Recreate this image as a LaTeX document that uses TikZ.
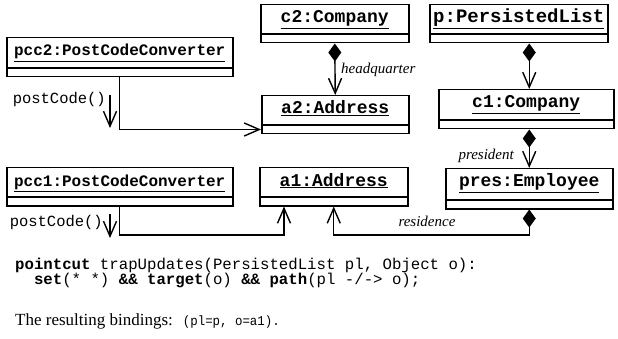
\documentclass[tikz,border=0pt]{standalone}
\usepackage{fontspec}
\usepackage{graphicx}
\setmainfont{Liberation Serif}
\setmonofont{Liberation Mono}
\usetikzlibrary{arrows.meta,calc}

\tikzset{
  objbox/.style={draw, line width=1.5pt, inner sep=0pt, anchor=north west},
  objname/.style={anchor=base, inner sep=0pt, font=\fontsize{18}{18}\selectfont\ttfamily\bfseries},
  widename/.style={objname, font=\fontsize{19}{19}\selectfont\ttfamily\bfseries},
  convname/.style={objname, font=\fontsize{16}{16}\selectfont\ttfamily\bfseries},
  link/.style={line width=1.4pt},
  nav/.style={link, -{Straight Barb[length=15pt,width=13pt]}},
  comp/.style={link, {Diamond[length=18pt,width=13pt]}-{Straight Barb[length=15pt,width=13pt]}},
  role/.style={inner sep=0pt, font=\fontsize{15}{15}\selectfont\itshape},
  msg/.style={inner sep=0pt, anchor=base east, font=\fontsize{15.5}{15.5}\selectfont\ttfamily},
  code/.style={inner sep=0pt, anchor=base west, font=\fontsize{15.7}{15.7}\selectfont\ttfamily},
}

% UML object: name, top-left corner, width, height, label style, label
\newcommand\umlobject[6]{%
  \node[objbox, minimum width=#3, minimum height=#4] (#1) at (#2) {};
  \draw[line width=1.5pt] ([yshift=9.5pt]#1.south west) -- ([yshift=9.5pt]#1.south east);
  \node[#5] (#1-label) at ([yshift=-19pt]#1.north) {\underline{#6}};
}

\begin{document}
\begin{tikzpicture}[x=1pt,y=-1pt]
\useasboundingbox (0,0) rectangle (618,339);

% objects
\umlobject{c2}{260,4}{148pt}{38pt}{objname}{c2:Company}
\umlobject{p}{429,4}{178pt}{38pt}{widename}{p:PersistedList}
\umlobject{pcc2}{6,37}{226pt}{39pt}{convname}{pcc2:PostCodeConverter}
\umlobject{c1}{438,89}{175pt}{39pt}{objname}{c1:Company}
\umlobject{a2}{261,95}{147pt}{38pt}{objname}{a2:Address}
\umlobject{pcc1}{6,167}{226pt}{38pt}{convname}{pcc1:PostCodeConverter}
\umlobject{a1}{259,167}{148pt}{38pt}{objname}{a1:Address}
\umlobject{pres}{445,168}{167pt}{40pt}{objname}{pres:Employee}

% links
\coordinate (lowrun) at (0,235);
\coordinate (a1in) at ([xshift=25pt]a1.south west);
\draw[comp] (c2.south) -- (a2.north);
\draw[comp] (p.south -| pres.north) -- (c1.north -| pres.north);
\draw[comp] (c1.south -| pres.north) -- (pres.north);
\draw[comp] (pres.south) -- (pres.south |- lowrun) -| (a1.south);
\draw[nav] (pcc1.south) |- (a1in |- lowrun) -- (a1in);
\draw[nav] (pcc2.south) |- ([yshift=5pt]a2.south west);

% role names
\node[role, anchor=base west] (hq) at (341,74) {headquarter};
\node[role, anchor=base east] (prl) at (514,160) {president};
\node[role, anchor=base] (rsl) at (427,226) {residence};

% messages
\coordinate (m2a) at (110,95);
\coordinate (m2b) at (110,128);
\draw[nav] (m2a) -- (m2b);
\node[msg] (pc2) at (106,104) {postCode()};
\coordinate (m1a) at (110,214);
\coordinate (m1b) at (110,238);
\draw[nav] (m1a) -- (m1b);
\node[msg] (pc1) at (103,226) {postCode()};

% pointcut text
\node[code] (l1) at (15,269) {\textbf{pointcut} trapUpdates(PersistedList pl, Object o):};
\node[code] (l2) at (15,284) {\phantom{xx}\textbf{set}(* *) \textbf{\&\&} \textbf{target}(o) \textbf{\&\&} \textbf{path}(pl -/-> o);};
\node[inner sep=0pt, anchor=base west] (res) at (15,325)
  {{\fontsize{17}{17}\selectfont The resulting bindings:}\hspace{10pt}\scalebox{0.92}[1]{\fontsize{13.5}{13.5}\selectfont\ttfamily (pl=p, o=a1).}};
\end{tikzpicture}
\end{document}
